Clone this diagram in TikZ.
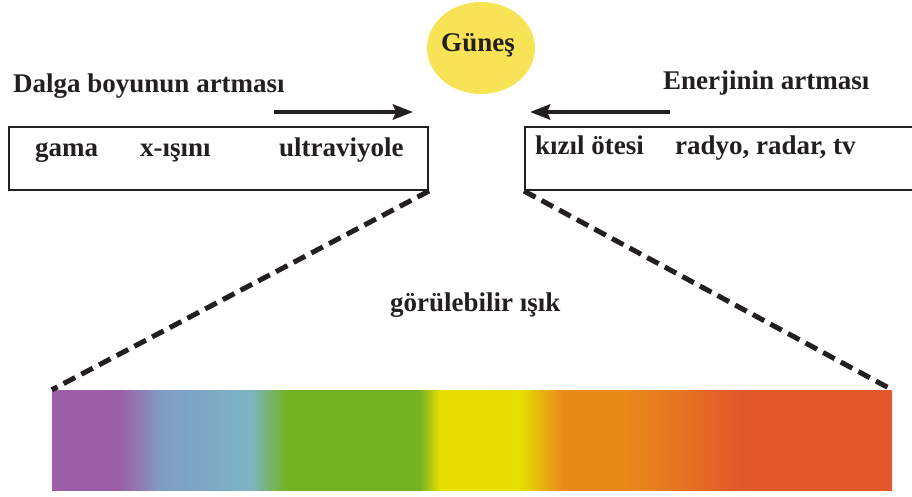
\documentclass[tikz,border=0pt]{standalone}
\usepackage{fontspec}
\setmainfont{Liberation Serif}
\usetikzlibrary{shapes.geometric,arrows.meta}
\definecolor{yazi}{HTML}{231F20}
\definecolor{sunyellow}{HTML}{F8E356}
\definecolor{sviolet}{HTML}{9C5EA6}
\definecolor{sblue}{HTML}{7F9DC1}
\definecolor{scyan}{HTML}{7DB4C6}
\definecolor{sgreen}{HTML}{74B224}
\definecolor{syellow}{HTML}{E6DE00}
\definecolor{sorange}{HTML}{E88A18}
\definecolor{sorange2}{HTML}{E67620}
\definecolor{sred}{HTML}{E2582A}
\pgfdeclarehorizontalshading{spectrum}{100bp}{color(0bp)=(sviolet); color(25bp)=(sviolet);
  color(29bp)=(sviolet); color(31.5bp)=(sblue); color(36.8bp)=(scyan); color(38.9bp)=(sgreen);
  color(46.9bp)=(sgreen); color(48.1bp)=(syellow); color(52.9bp)=(syellow); color(55.4bp)=(sorange);
  color(59bp)=(sorange); color(62bp)=(sorange2); color(66bp)=(sred); color(75bp)=(sred); color(100bp)=(sred)}
\tikzstyle{lbl} = [font=\fontsize{27}{32}\selectfont\bfseries, text=yazi, anchor=base west]
\tikzstyle{kutu} = [draw=yazi, line width=2pt, anchor=north west, minimum height=63pt]
\tikzstyle{ok} = [line width=4.5pt, yazi, -{Stealth[length=20pt,width=15pt,inset=3pt]}]
\tikzstyle{kesik} = [line width=5pt, yazi, dash pattern=on 13pt off 7pt]

\begin{document}
\begin{tikzpicture}[x=1pt,y=-1pt]
\tikzset{every node/.style={inner sep=0}}
\useasboundingbox (0,0) rectangle (912,497);
\node[ellipse, fill=sunyellow, minimum width=108pt, minimum height=92pt] (gunes) at (481,48) {};
\node[lbl, anchor=base] (t0) at (478,52) {Güneş};

\node[lbl] (t1) at (13,93) {Dalga boyunun artması};
\node[lbl] (t2) at (663,90) {Enerjinin artması};
\coordinate (a1) at (274,112);
\coordinate (a2) at (413,112);
\coordinate (b1) at (670,112);
\coordinate (b2) at (530,112);
\draw[ok] (a1) -- (a2);
\draw[ok] (b1) -- (b2);

\node[kutu, minimum width=419pt] (kutu1) at (8,126) {};
\node[kutu, minimum width=400pt] (kutu2) at (524,126) {};
\node[lbl] (g1) at (35,157) {gama};
\node[lbl] (g2) at (140,157) {x-ışını};
\node[lbl] (g3) at (279,157) {ultraviyole};
\node[lbl] (g4) at (535,155) {kızıl ötesi};
\node[lbl] (g5) at (675,155) {radyo, radar, tv};

\node[lbl] (t3) at (390,311) {görülebilir ışık};
\node[shade, shading=spectrum, minimum width=840pt, minimum height=100pt] (isik) at (472,440) {};

\draw[kesik] (kutu1.south east) -- (isik.north west);
\draw[kesik] (kutu2.south west) -- (isik.north east);
\end{tikzpicture}
\end{document}
